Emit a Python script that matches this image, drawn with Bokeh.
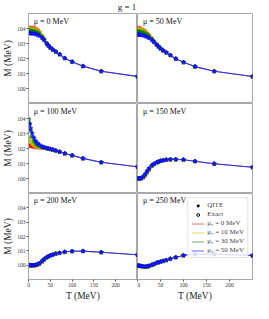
from bokeh.plotting import figure
from bokeh.layouts import column, row
from bokeh.models import Range1d, Label, Legend, LegendItem, FixedTicker
from bokeh.embed import file_html
from bokeh.resources import INLINE
from bokeh.core.properties import value

# ---------------- data ----------------
T = [1, 2.5, 5, 8.3, 12.5, 16.7, 20.8, 25, 31.25, 35.7, 41.7, 45.5, 50,
     55.6, 62.5, 71.4, 83.3, 100, 125, 166.7, 250]

mu5_labels = ["μ₅ = 0 MeV", "μ₅ = 10 MeV", "μ₅ = 30 MeV", "μ₅ = 50 MeV"]
mu5_colors = ["#ff0000", "#bfbf00", "#008000", "#0000ff"]
panel_labels = ["μ = 0 MeV", "μ = 50 MeV", "μ = 100 MeV",
                "μ = 150 MeV", "μ = 200 MeV", "μ = 250 MeV"]
x_ticks = [0, 50, 100, 150, 200]
y_ticks = [100, 101, 102, 103, 104]

# mu = 0 MeV
M_mu0_0 = [104.03, 104.03, 104.03, 104.03, 104.02, 103.98, 103.90, 103.76, 103.50, 103.30, 103.02,
           102.87, 102.72, 102.59, 102.46, 102.28, 102.02, 101.78, 101.49, 101.15, 100.80]
M_mu0_10 = [103.98, 103.98, 103.98, 103.97, 103.96, 103.92, 103.85, 103.73, 103.49, 103.30, 103.02,
            102.87, 102.72, 102.59, 102.46, 102.28, 102.02, 101.78, 101.49, 101.15, 100.80]
M_mu0_30 = [103.85, 103.85, 103.85, 103.84, 103.82, 103.79, 103.73, 103.64, 103.44, 103.27, 103.01,
            102.87, 102.72, 102.59, 102.46, 102.28, 102.02, 101.78, 101.49, 101.15, 100.80]
M_mu0_50 = [103.68, 103.68, 103.68, 103.67, 103.65, 103.62, 103.57, 103.50, 103.36, 103.22, 102.99,
            102.86, 102.72, 102.59, 102.46, 102.28, 102.02, 101.78, 101.49, 101.15, 100.80]

# mu = 50 MeV
M_mu50_0 = [104.02, 104.02, 104.00, 103.97, 103.90, 103.80, 103.68, 103.55, 103.33, 103.15, 102.93,
            102.80, 102.66, 102.53, 102.40, 102.22, 101.98, 101.75, 101.46, 101.15, 100.80]
M_mu50_10 = [103.96, 103.96, 103.95, 103.92, 103.86, 103.77, 103.66, 103.53, 103.32, 103.15, 102.93,
             102.80, 102.66, 102.53, 102.40, 102.22, 101.98, 101.75, 101.46, 101.15, 100.80]
M_mu50_30 = [103.80, 103.80, 103.79, 103.77, 103.73, 103.66, 103.58, 103.48, 103.30, 103.14, 102.93,
             102.80, 102.66, 102.53, 102.40, 102.22, 101.98, 101.75, 101.46, 101.15, 100.80]
M_mu50_50 = [103.58, 103.58, 103.57, 103.56, 103.53, 103.49, 103.43, 103.36, 103.22, 103.09, 102.92,
             102.80, 102.66, 102.53, 102.40, 102.22, 101.98, 101.75, 101.46, 101.15, 100.80]

# mu = 100 MeV
M_mu100_0 = [102.20, 102.19, 102.17, 102.14, 102.11, 102.09, 102.08, 102.07, 102.05, 102.04, 102.02,
             101.99, 101.96, 101.92, 101.86, 101.78, 101.67, 101.54, 101.34, 101.08, 100.78]
M_mu100_10 = [102.75, 102.62, 102.45, 102.30, 102.20, 102.14, 102.11, 102.09, 102.06, 102.04, 102.02,
              101.99, 101.96, 101.92, 101.86, 101.78, 101.67, 101.54, 101.34, 101.08, 100.78]
M_mu100_30 = [103.95, 103.65, 103.20, 102.80, 102.50, 102.32, 102.22, 102.16, 102.09, 102.06, 102.02,
              101.99, 101.96, 101.92, 101.86, 101.78, 101.67, 101.54, 101.34, 101.08, 100.78]
M_mu100_50 = [103.70, 103.60, 103.35, 103.02, 102.72, 102.50, 102.35, 102.25, 102.14, 102.08, 102.03,
              101.99, 101.96, 101.92, 101.86, 101.78, 101.67, 101.54, 101.34, 101.08, 100.78]

# mu = 150 MeV
M_mu150_0 = [100.00, 100.00, 100.00, 100.01, 100.07, 100.21, 100.40, 100.59, 100.82, 100.95, 101.06,
             101.11, 101.17, 101.21, 101.25, 101.27, 101.27, 101.25, 101.15, 100.98, 100.75]
M_mu150_10 = [100.00, 100.00, 100.00, 100.01, 100.08, 100.22, 100.41, 100.60, 100.83, 100.95, 101.06,
              101.11, 101.17, 101.21, 101.25, 101.27, 101.27, 101.25, 101.15, 100.98, 100.75]
M_mu150_30 = [100.00, 100.00, 100.00, 100.02, 100.10, 100.26, 100.45, 100.63, 100.85, 100.96, 101.06,
              101.11, 101.17, 101.21, 101.25, 101.27, 101.27, 101.25, 101.15, 100.98, 100.75]
M_mu150_50 = [100.00, 100.00, 100.00, 100.03, 100.13, 100.30, 100.50, 100.68, 100.88, 100.98, 101.07,
              101.12, 101.17, 101.21, 101.25, 101.27, 101.27, 101.25, 101.15, 100.98, 100.75]

# mu = 200 MeV
M_mu200_0 = [100.00, 100.00, 99.99, 99.98, 99.98, 100.00, 100.04, 100.10, 100.25, 100.38, 100.53,
             100.61, 100.68, 100.73, 100.80, 100.85, 100.92, 100.97, 100.98, 100.90, 100.72]
M_mu200_10 = [100.00, 100.00, 99.99, 99.98, 99.98, 100.00, 100.04, 100.10, 100.25, 100.38, 100.53,
              100.61, 100.68, 100.73, 100.80, 100.85, 100.92, 100.97, 100.98, 100.90, 100.72]
M_mu200_30 = [100.00, 100.00, 99.99, 99.99, 99.99, 100.01, 100.05, 100.11, 100.26, 100.39, 100.53,
              100.61, 100.68, 100.73, 100.80, 100.85, 100.92, 100.97, 100.98, 100.90, 100.72]
M_mu200_50 = [100.00, 100.00, 99.99, 99.99, 100.00, 100.02, 100.07, 100.14, 100.30, 100.42, 100.55,
              100.62, 100.68, 100.73, 100.80, 100.85, 100.92, 100.97, 100.98, 100.90, 100.72]

# mu = 250 MeV
M_mu250_0 = [99.96, 99.96, 99.95, 99.93, 99.90, 99.88, 99.89, 99.93, 100.00, 100.06, 100.15,
             100.20, 100.24, 100.29, 100.35, 100.44, 100.55, 100.68, 100.76, 100.77, 100.67]
M_mu250_10 = [99.96, 99.96, 99.95, 99.93, 99.90, 99.88, 99.89, 99.93, 100.00, 100.06, 100.15,
              100.20, 100.24, 100.29, 100.35, 100.44, 100.55, 100.68, 100.76, 100.77, 100.67]
M_mu250_30 = [99.96, 99.96, 99.95, 99.93, 99.90, 99.89, 99.90, 99.94, 100.01, 100.07, 100.15,
              100.20, 100.24, 100.29, 100.35, 100.44, 100.55, 100.68, 100.76, 100.77, 100.67]
M_mu250_50 = [99.96, 99.96, 99.95, 99.93, 99.91, 99.90, 99.92, 99.96, 100.03, 100.09, 100.16,
              100.20, 100.24, 100.29, 100.35, 100.44, 100.55, 100.68, 100.76, 100.77, 100.67]

panels_data = [
    [M_mu0_0, M_mu0_10, M_mu0_30, M_mu0_50],
    [M_mu50_0, M_mu50_10, M_mu50_30, M_mu50_50],
    [M_mu100_0, M_mu100_10, M_mu100_30, M_mu100_50],
    [M_mu150_0, M_mu150_10, M_mu150_30, M_mu150_50],
    [M_mu200_0, M_mu200_10, M_mu200_30, M_mu200_50],
    [M_mu250_0, M_mu250_10, M_mu250_30, M_mu250_50],
]

# ---------------- style ----------------
FONT = "Liberation Serif"
W, H = 115, 90
LB, RB, TB, BB = 22, 1, 1, 20
FRAME = "#a8a8a8"
NAN = float("nan")


def style_axis(ax):
    ax.axis_line_color = FRAME
    ax.major_tick_line_color = "#555555"
    ax.major_tick_out = 2
    ax.major_tick_in = 0
    ax.minor_tick_line_color = None
    ax.major_label_text_font = FONT
    ax.major_label_text_font_size = "5.5px"
    ax.major_label_text_color = "#333333"
    ax.major_label_standoff = 1
    ax.axis_label_text_font = FONT
    ax.axis_label_text_font_size = "9.5px"
    ax.axis_label_text_font_style = "normal"
    ax.axis_label_text_color = "#222222"
    ax.axis_label_standoff = 1


def make_panel(idx):
    c = idx % 2
    r = idx // 2
    left = c == 0
    bottom = r == 2
    lb = LB if left else 0
    rb = 0 if left else RB
    tb = TB if r == 0 else 0
    bb = BB if bottom else 0
    p = figure(width=W + lb + rb, height=H + tb + bb,
               x_range=Range1d(0, 250), y_range=Range1d(99, 105),
               toolbar_location=None, output_backend="svg",
               x_axis_location="below" if bottom else None,
               y_axis_location="left" if left else None,
               min_border_left=lb, min_border_right=rb,
               min_border_top=tb, min_border_bottom=bb)
    p.xgrid.visible = False
    p.ygrid.visible = False
    p.outline_line_color = FRAME
    p.outline_line_width = 1
    p.background_fill_color = "white"
    p.border_fill_color = "white"
    if left:
        p.yaxis.ticker = FixedTicker(ticks=y_ticks)
        p.yaxis.axis_label = "M (MeV)"
        style_axis(p.yaxis[0])
    if bottom:
        p.xaxis.ticker = FixedTicker(ticks=x_ticks)
        p.xaxis.axis_label = "T (MeV)"
        style_axis(p.xaxis[0])

    series = list(zip(panels_data[idx], mu5_colors))
    # markers first (red at bottom, blue on top)
    for k, (M, col) in enumerate(series):
        if k < 3:
            p.line(T, M, line_color=col, line_width=0.8, line_alpha=0.4)
        p.scatter(T, M, marker="star", size=4.5, fill_color=col, line_color=col, line_width=0.4)
        p.scatter(T, M, marker="circle", size=3.5, fill_color=None, line_color=col, line_width=0.5,
                  line_alpha=0.7)
    # top (blue) curve drawn last so that it shows through on the converged part
    p.line(T, series[3][0], line_color="#2020ff", line_width=1.1, line_alpha=0.9)

    p.add_layout(Label(x=12, y=104.5, text=panel_labels[idx], text_font=FONT,
                       text_font_size="8px", text_baseline="middle", text_color="#111111"))

    if idx == 5:
        q = p.scatter([NAN], [NAN], marker="star", size=5, fill_color="black", line_color="black")
        e = p.scatter([NAN], [NAN], marker="circle", size=4.5, fill_color=None, line_color="black")
        items = [LegendItem(label="QITE", renderers=[q]),
                 LegendItem(label="Exact", renderers=[e])]
        for lab, col in zip(mu5_labels, mu5_colors):
            lr = p.line([NAN], [NAN], line_color=col, line_width=1, line_alpha=0.6)
            items.append(LegendItem(label=lab, renderers=[lr]))
        leg = Legend(items=items, location="top_right")
        leg.label_text_font = FONT
        leg.label_text_font_size = "7px"
        leg.label_height = 7
        leg.glyph_height = 7
        leg.glyph_width = 13
        leg.label_standoff = 3
        leg.spacing = 1
        leg.padding = 3
        leg.margin = 4
        leg.border_line_color = "#cccccc"
        leg.background_fill_alpha = 0.85
        p.add_layout(leg)
    return p


panels = [make_panel(i) for i in range(6)]

title_fig = figure(width=W * 2 + LB + RB, height=12, x_range=Range1d(0, 1), y_range=Range1d(0, 1),
                   toolbar_location=None, output_backend="svg",
                   x_axis_location=None, y_axis_location=None, min_border=0)
title_fig.outline_line_color = None
title_fig.xgrid.visible = False
title_fig.ygrid.visible = False
title_fig.text(x=[0.5], y=[0.5], text=["g = 1"], text_align="center", text_baseline="middle",
               text_font=value(FONT), text_font_size="9px", text_color="#222222")

layout = column(title_fig,
                row(panels[0], panels[1]),
                row(panels[2], panels[3]),
                row(panels[4], panels[5]))

with open("out.html", "w") as f:
    f.write(file_html(layout, INLINE))
